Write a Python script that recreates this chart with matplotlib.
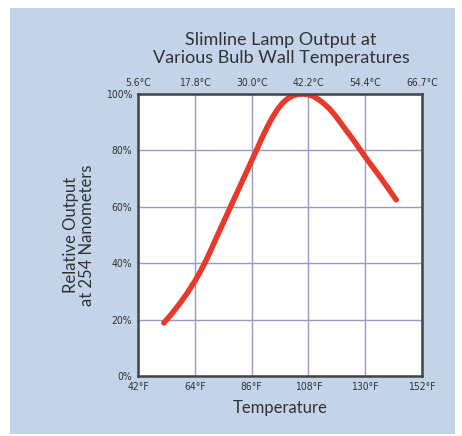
import matplotlib.pyplot as plt
from matplotlib.patches import Rectangle

# curve (degrees F, relative output %)
temp_f = [52, 55, 58, 61, 64, 66, 68, 70, 72, 76, 80, 84, 88, 90, 92, 94, 96, 98,
          100, 102, 104, 106, 108, 110, 112, 114, 116, 118, 120, 122, 125, 130, 136, 142]
output = [18.8, 22.0, 25.5, 29.3, 33.6, 36.8, 40.3, 44.2, 48.3, 56.3, 64.3, 72.3, 80.3,
          84.4, 88.2, 91.6, 94.5, 96.8, 98.4, 99.4, 99.9, 100, 99.8, 99.1, 98.0, 96.6,
          94.9, 92.8, 90.4, 87.9, 84.2, 77.7, 70.3, 62.5]

f_ticks = [42, 64, 86, 108, 130, 152]
f_labels = ['42°F', '64°F', '86°F', '108°F', '130°F', '152°F']
c_labels = ['5.6°C', '17.8°C', '30.0°C', '42.2°C', '54.4°C', '66.7°C']
y_ticks = [0, 20, 40, 60, 80, 100]
y_labels = ['0%', '20%', '40%', '60%', '80%', '100%']

panel = '#c3d4e8'
grid_col = '#9c97c4'
line_col = '#e8392c'
text_font = ['Lato', 'DejaVu Sans']
tick_kw = dict(family='DejaVu Sans', stretch='condensed', fontsize=7.5, color='#333333')

fig = plt.figure(figsize=(4.62, 4.36), dpi=100)
fig.patches.append(Rectangle((10 / 462, 2 / 436), 445 / 462, 426 / 436,
                             transform=fig.transFigure, facecolor=panel,
                             edgecolor='none', zorder=-5))

ax = fig.add_axes([138 / 462, 60 / 436, 284 / 462, 282 / 436])
ax.set_facecolor('white')
ax.plot(temp_f, output, color=line_col, lw=4, solid_capstyle='round',
        solid_joinstyle='round', zorder=3)

ax.set_xlim(42, 152)
ax.set_ylim(0, 100)
ax.set_xticks(f_ticks)
ax.set_xticklabels(f_labels, **tick_kw)
ax.set_yticks(y_ticks)
ax.set_yticklabels(y_labels, **tick_kw)
ax.tick_params(length=0, pad=4)
ax.grid(True, color=grid_col, lw=1)
for s in ax.spines.values():
    s.set_color('#444444')
    s.set_linewidth(1.8)
    s.set_zorder(4)

top = ax.secondary_xaxis('top')
top.set_xticks(f_ticks)
top.set_xticklabels(c_labels, **tick_kw)
top.tick_params(length=0, pad=4)
top.spines['top'].set_visible(False)

ax.set_xlabel('Temperature', family=text_font, fontsize=12, color='#333333', labelpad=6)
ax.set_ylabel('Relative Output\nat 254 Nanometers', family=text_font, fontsize=12,
              color='#333333', labelpad=8, linespacing=1.0)
fig.text(281 / 462, 1 - 49 / 436, 'Slimline Lamp Output at\nVarious Bulb Wall Temperatures',
         ha='center', va='center', family=text_font, fontsize=13, color='#333333',
         linespacing=1.12)

fig.savefig('out.png', dpi=100)
